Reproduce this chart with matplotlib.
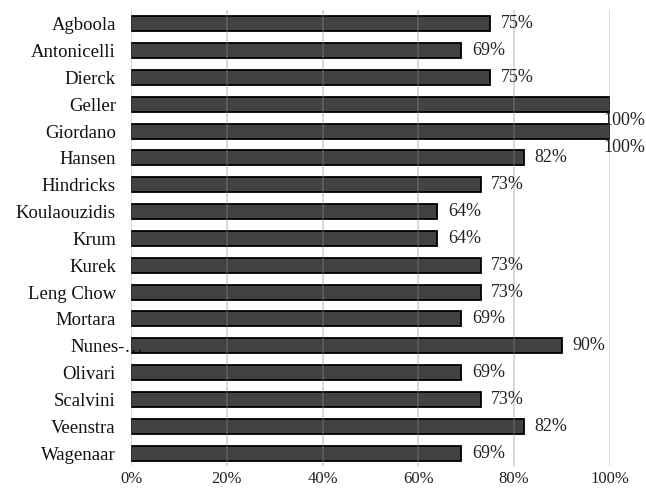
import matplotlib
matplotlib.use("Agg")
import matplotlib.pyplot as plt
import matplotlib.transforms as mtransforms

names = ["Agboola", "Antonicelli", "Dierck", "Geller", "Giordano", "Hansen",
         "Hindricks", "Koulaouzidis", "Krum", "Kurek", "Leng Chow", "Mortara",
         "Nunes-…", "Olivari", "Scalvini", "Veenstra", "Wagenaar"]
values = [75, 69, 75, 100, 100, 82, 73, 64, 64, 73, 73, 69, 90, 69, 73, 82, 69]
xticks = [0, 20, 40, 60, 80, 100]
xtick_labels = ["0%", "20%", "40%", "60%", "80%", "100%"]

plt.rcParams["font.family"] = ["Liberation Serif", "DejaVu Serif"]

fig = plt.figure(figsize=(6.46, 4.91), dpi=100)
ax = fig.add_axes([0.203, 0.05, 0.741, 0.929])

ypos = list(range(len(names)))
ax.barh(ypos, values, height=0.56, color="#424242", edgecolor="black",
        linewidth=1.3, zorder=2)

for y, v in zip(ypos, values):
    if v >= 100:
        # no room at the right, so the label drops under the bar end
        ax.text(v + 3, y + 0.3, f"{v}%", ha="center", va="top", fontsize=13,
                color="#222222", zorder=4)
    else:
        ax.text(v + 2.2, y, f"{v}%", ha="left", va="center", fontsize=13,
                color="#222222", zorder=4)

ax.set_xlim(0, 100)
ax.set_ylim(len(names) - 0.5, -0.5)
ax.set_yticks(ypos)
ax.set_yticklabels(names, fontsize=13.5, color="#111111")
ax.set_xticks(xticks)
ax.set_xticklabels(xtick_labels, fontsize=12, color="#222222")
ax.tick_params(axis="both", length=0)
ax.tick_params(axis="y", pad=11)
ax.tick_params(axis="x", pad=3)

# the truncated label spills into the plot area
lab = ax.get_yticklabels()[12]
lab.set_transform(lab.get_transform() + mtransforms.ScaledTranslation(0.28, 0, fig.dpi_scale_trans))

ax.grid(axis="x", color="#8a8a8a", alpha=0.35, linewidth=1.3, zorder=3)
ax.set_axisbelow(False)
for s in ax.spines.values():
    s.set_visible(False)

fig.savefig("out.png", dpi=100)
